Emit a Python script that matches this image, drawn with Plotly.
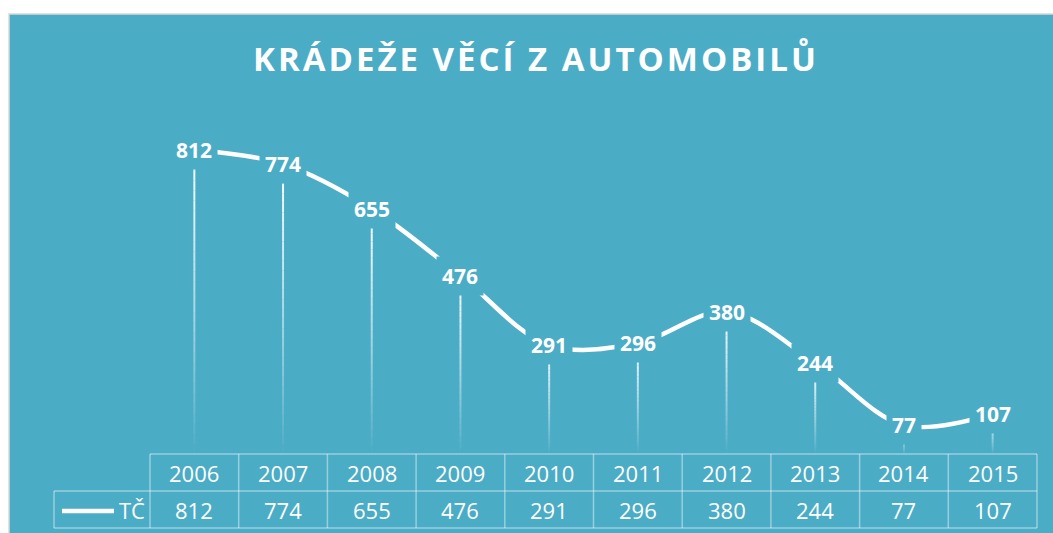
import plotly.graph_objects as go

# ---------------- data ----------------
years = ["2006", "2007", "2008", "2009", "2010", "2011", "2012", "2013", "2014", "2015"]
values = [812, 774, 655, 476, 291, 296, 380, 244, 77, 107]
series_name = "TČ"
title_text = "KRÁDEŽE VĚCÍ Z AUTOMOBILŮ"

# ---------------- layout constants ----------------
W, H = 1053, 533
L, R, T, B = 150, 16, 117, 79
PW, PH = W - L - R, H - T - B
TEAL = "#4BACC6"
GRID = "rgba(255,255,255,0.42)"
FONT = "Open Sans"


def px(xp):
    return (xp - L) / PW


def py(yp):
    return (H - B - yp) / PH


n = len(years)
idx = list(range(n))

fig = go.Figure()

# drop lines with a fading gradient (built from the values)
N = 30
for k in range(N):
    xs, ys = [], []
    for i, v in zip(idx, values):
        xs += [i, i, None]
        ys += [v * k / N, v * (k + 1) / N, None]
    alpha = ((k + 0.5) / N) ** 0.9
    fig.add_trace(go.Scatter(
        x=xs, y=ys, mode="lines",
        line=dict(color=f"rgba(255,255,255,{alpha:.3f})", width=2),
        hoverinfo="skip", showlegend=False, connectgaps=False))

# main smoothed line
fig.add_trace(go.Scatter(
    x=idx, y=values, mode="lines", name=series_name,
    line=dict(color="white", width=4.5, shape="spline", smoothing=1.0),
    showlegend=False))

annotations = []
# data labels
for i, v in zip(idx, values):
    annotations.append(dict(
        x=i, y=v, xref="x", yref="y", text=f"<b>{v}</b>", showarrow=False,
        font=dict(family=FONT, size=21, color="white"),
        bgcolor=TEAL, borderpad=5, xanchor="center", yanchor="middle"))

# title
annotations.append(dict(
    x=px(536), y=py(58), xref="paper", yref="paper",
    text=f"<span style='letter-spacing:3px'><b>{title_text}</b></span>",
    showarrow=False, font=dict(family=FONT, size=33, color="white"),
    xanchor="center", yanchor="middle"))

# table geometry
row_top, row_mid, row_bot = 0.0, py(491), py(528)
leg_left = px(54)

shapes = [
    # teal chart background
    dict(type="rect", xref="paper", yref="paper", x0=px(9), x1=px(1060),
         y0=py(14), y1=py(540), fillcolor=TEAL,
         line=dict(color="#D9D9D9", width=1.5), layer="below"),
]
# vertical lines
for i in range(n + 1):
    shapes.append(dict(type="line", xref="paper", yref="paper",
                       x0=i / n, x1=i / n, y0=row_top, y1=row_bot,
                       line=dict(color=GRID, width=1.5)))
shapes.append(dict(type="line", xref="paper", yref="paper",
                   x0=leg_left, x1=leg_left, y0=row_mid, y1=row_bot,
                   line=dict(color=GRID, width=1.5)))
# horizontal lines
shapes.append(dict(type="line", xref="paper", yref="paper",
                   x0=0, x1=1, y0=row_top, y1=row_top,
                   line=dict(color=GRID, width=1.5)))
for yv in (row_mid, row_bot):
    shapes.append(dict(type="line", xref="paper", yref="paper",
                       x0=leg_left, x1=1, y0=yv, y1=yv,
                       line=dict(color=GRID, width=1.5)))
# legend sample line
shapes.append(dict(type="line", xref="paper", yref="paper",
                   x0=px(62), x1=px(114), y0=py(511), y1=py(511),
                   line=dict(color="white", width=4.5)))

# table texts
for i, (yr, v) in enumerate(zip(years, values)):
    xc = (i + 0.5) / n
    annotations.append(dict(x=xc, y=(row_top + row_mid) / 2, xref="paper", yref="paper",
                            text=yr, showarrow=False,
                            font=dict(family=FONT, size=22, color="white"),
                            xanchor="center", yanchor="middle"))
    annotations.append(dict(x=xc, y=(row_mid + row_bot) / 2, xref="paper", yref="paper",
                            text=str(v), showarrow=False,
                            font=dict(family=FONT, size=22, color="white"),
                            xanchor="center", yanchor="middle"))
annotations.append(dict(x=px(117), y=(row_mid + row_bot) / 2, xref="paper", yref="paper",
                        text=series_name, showarrow=False,
                        font=dict(family=FONT, size=22, color="white"),
                        xanchor="left", yanchor="middle"))

fig.update_layout(
    width=W, height=H,
    margin=dict(l=L, r=R, t=T, b=B, pad=0),
    paper_bgcolor="white", plot_bgcolor="rgba(0,0,0,0)",
    showlegend=False,
    xaxis=dict(range=[-0.5, n - 0.5], visible=False, fixedrange=True),
    yaxis=dict(range=[0, 900], visible=False, fixedrange=True),
    shapes=shapes, annotations=annotations,
)

fig.write_html("out.html")
